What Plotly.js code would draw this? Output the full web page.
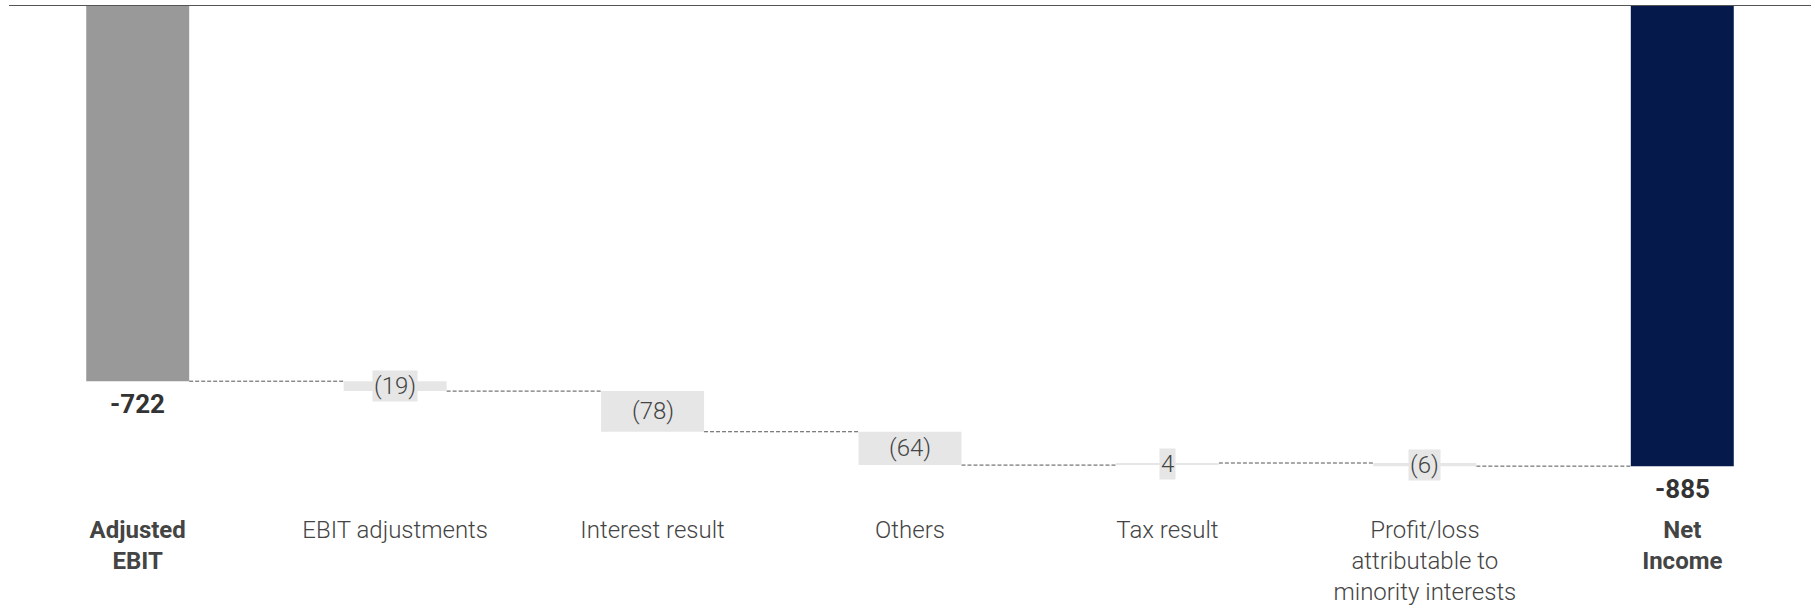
<!DOCTYPE html>
<html>
<head>
<meta charset="utf-8">
<script src="https://cdn.plot.ly/plotly-3.0.1.min.js"></script>
<style>
  html, body { margin: 0; padding: 0; background: #fff; }
  #chart { width: 1815px; height: 608px; }
</style>
</head>
<body>
<div id="chart"></div>
<script>
// ---- data ----
const categories = [
  '<b>Adjusted<br>EBIT</b>',
  'EBIT adjustments',
  'Interest result',
  'Others',
  'Tax result',
  'Profit/loss<br>attributable to<br>minority interests',
  '<b>Net<br>Income</b>'
];
const values = [-722, -19, -78, -64, 4, -6, -885];
const measures = ['total', 'relative', 'relative', 'relative', 'relative', 'relative', 'total'];

// ---- styling ----
const colTotalStart = '#999999';
const colTotalEnd = '#06194b';
const colStep = '#e6e6e6';
const FONT = 'Roboto, "Open Sans", sans-serif';

const xs = categories.map((_, i) => i);
const bases = [];
const ends = [];
let running = 0;
values.forEach((v, i) => {
  if (measures[i] === 'total') {
    bases.push(0);
    running = v;
  } else {
    bases.push(running);
    running = running + v;
  }
  ends.push(running);
});
const colors = values.map((v, i) => {
  if (measures[i] === 'total') return i === 0 ? colTotalStart : colTotalEnd;
  return colStep;
});

const barWidth = 0.4;

const trace = {
  type: 'bar',
  x: xs,
  y: values,
  base: bases,
  width: barWidth,
  marker: { color: colors, line: { width: 0 } },
  hoverinfo: 'skip'
};

const fmt = v => v < 0 ? '(' + Math.abs(v) + ')' : String(v);

const annotations = [];
values.forEach((v, i) => {
  if (measures[i] === 'total') {
    annotations.push({
      x: xs[i], y: ends[i], xref: 'x', yref: 'y',
      text: '<b>' + String(v) + '</b>',
      showarrow: false, yanchor: 'top', yshift: -6,
      font: { family: FONT, size: 26, color: '#333333' }
    });
  } else {
    annotations.push({
      x: xs[i], y: bases[i] + v / 2, xref: 'x', yref: 'y',
      text: fmt(v),
      showarrow: false, xanchor: 'center', yanchor: 'middle',
      bgcolor: colStep, borderpad: 1,
      font: { family: FONT, size: 24, color: '#444444', weight: 300 }
    });
  }
});

const shapes = [];
for (let i = 0; i < xs.length - 1; i++) {
  shapes.push({
    type: 'line', xref: 'x', yref: 'y',
    x0: xs[i] + barWidth / 2, x1: xs[i + 1] - barWidth / 2,
    y0: ends[i], y1: ends[i],
    line: { color: '#555555', width: 1, dash: '4px,2px' },
    layer: 'below'
  });
}
shapes.push({
  type: 'line', xref: 'paper', yref: 'y',
  x0: 0, x1: 1, y0: 0, y1: 0,
  line: { color: '#555555', width: 2 },
  layer: 'above'
});

const layout = {
  width: 1815,
  height: 608,
  margin: { l: 9, r: 4, t: 5, b: 108, pad: 0 },
  paper_bgcolor: '#ffffff',
  plot_bgcolor: '#ffffff',
  showlegend: false,
  xaxis: {
    range: [-0.5, 6.5],
    tickvals: xs,
    ticktext: categories,
    showgrid: false, zeroline: false, showline: false,
    ticks: '', ticklabelstandoff: 13,
    tickfont: { family: FONT, size: 24, color: '#444444', weight: 300 },
    fixedrange: true
  },
  yaxis: {
    range: [-950, 0],
    showgrid: false, zeroline: false, showline: false,
    showticklabels: false, ticks: '',
    fixedrange: true
  },
  shapes: shapes,
  annotations: annotations
};

Plotly.newPlot('chart', [trace], layout, { displayModeBar: false, staticPlot: true });
</script>
</body>
</html>
